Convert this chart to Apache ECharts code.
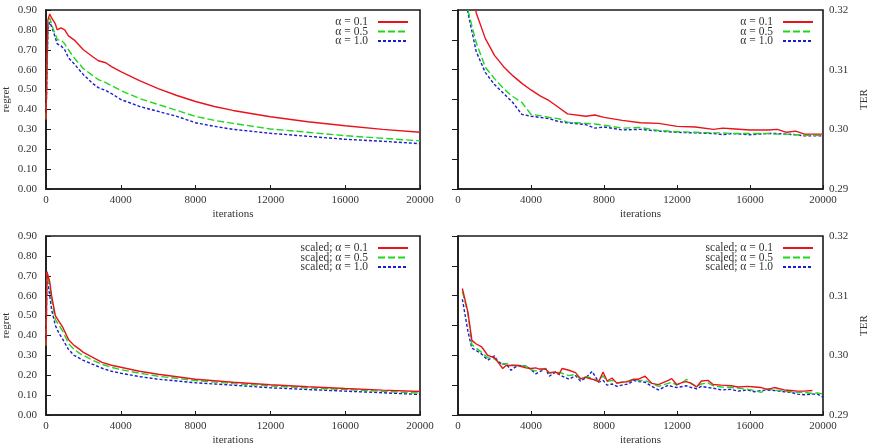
<!DOCTYPE html>
<html><head><meta charset="utf-8">
<script src="https://cdn.jsdelivr.net/npm/echarts@6/dist/echarts.min.js"></script>
<style>html,body{margin:0;padding:0;background:#fff}#c{width:871px;height:448px}</style>
</head><body><div id="c"></div>
<script>
// ---------- data ----------
const xTL = [0,100,200,300,400,500,600,800,1000,1200,1500,2000,2500,2800,3200,3500,4000,5000,6000,7000,8000,9000,10000,12000,14000,16000,18000,20000];
const regretA01 = [0.35,0.85,0.88,0.86,0.85,0.83,0.80,0.81,0.80,0.77,0.75,0.70,0.665,0.645,0.635,0.615,0.59,0.545,0.505,0.47,0.44,0.415,0.395,0.363,0.338,0.318,0.30,0.285];
const regretA05 = [0.35,0.82,0.86,0.83,0.80,0.78,0.75,0.75,0.73,0.70,0.66,0.605,0.57,0.55,0.535,0.52,0.495,0.455,0.425,0.395,0.365,0.345,0.33,0.302,0.285,0.268,0.255,0.242];
const regretA10 = [0.35,0.80,0.84,0.84,0.79,0.76,0.73,0.72,0.70,0.66,0.63,0.575,0.53,0.51,0.495,0.48,0.45,0.415,0.39,0.365,0.333,0.315,0.30,0.28,0.265,0.25,0.24,0.228];

const xTR = [0,500,1000,1500,2000,2500,3000,3500,4000,4500,5000,5500,6000,7000,7500,8000,9000,10000,11000,12000,13000,14000,14500,15000,16000,17000,17500,18000,18500,19000,20000];
const terA01 = [0.34,0.328,0.3195,0.3152,0.3124,0.3105,0.309,0.3077,0.3066,0.3056,0.3048,0.3037,0.3026,0.3022,0.3024,0.3020,0.3015,0.3011,0.3010,0.3005,0.3004,0.3000,0.3002,0.3001,0.2999,0.2999,0.3000,0.2995,0.2997,0.2992,0.2992];
const terA05 = [0.335,0.3205,0.3145,0.3104,0.3085,0.3068,0.3055,0.3045,0.3025,0.3023,0.3020,0.3018,0.3012,0.3010,0.3009,0.3007,0.3002,0.3003,0.2998,0.2996,0.2995,0.2994,0.2994,0.2993,0.2993,0.2993,0.2992,0.2992,0.2991,0.2990,0.2990];
const terA10 = [0.335,0.3202,0.313,0.3095,0.3075,0.306,0.3045,0.3025,0.3022,0.3020,0.3018,0.3013,0.3011,0.3008,0.3002,0.3004,0.2999,0.3000,0.2997,0.2995,0.2994,0.2993,0.2991,0.2993,0.2991,0.2993,0.2993,0.2992,0.2991,0.2989,0.2989];

const xBL = [0,50,200,300,400,500,700,900,1200,1500,1800,2000,2500,3000,3500,4000,5000,6000,8000,10000,12000,14000,16000,18000,20000];
const scRegretA01 = [0.35,0.72,0.67,0.60,0.55,0.50,0.47,0.44,0.38,0.35,0.33,0.315,0.29,0.265,0.25,0.24,0.22,0.205,0.18,0.165,0.152,0.142,0.133,0.125,0.118];
const scRegretA05 = [0.35,0.72,0.65,0.58,0.53,0.48,0.45,0.42,0.36,0.33,0.31,0.30,0.275,0.255,0.24,0.228,0.21,0.195,0.173,0.158,0.146,0.136,0.128,0.119,0.11];
const scRegretA10 = [0.35,0.70,0.60,0.53,0.49,0.45,0.41,0.38,0.33,0.30,0.285,0.275,0.255,0.235,0.22,0.21,0.193,0.18,0.162,0.15,0.137,0.128,0.12,0.112,0.103];

const xBR = [240,545,760,1000,1300,1630,2000,2180,2450,2630,2900,3270,3720,4000,4260,4450,4800,5000,5350,5530,5710,6080,6440,6710,6990,7350,7710,7950,8170,8440,8710,8980,9350,9620,9890,10250,10620,10980,11520,11710,11980,12340,12520,12790,13070,13340,13700,13980,14430,14970,15340,15880,16240,16610,16970,17330,17880,18240,18600,18970,19420,19700,20000];
const scTerA01 = [0.3112,0.3072,0.3025,0.3019,0.3014,0.3000,0.2996,0.2989,0.2978,0.2983,0.2983,0.2983,0.2979,0.2978,0.2979,0.2977,0.2977,0.2971,0.2972,0.2968,0.2978,0.2975,0.2971,0.2961,0.2963,0.2960,0.2956,0.2972,0.2957,0.2962,0.2953,0.2955,0.2956,0.2960,0.2960,0.2965,0.2953,0.2951,0.2958,0.2961,0.2951,0.2955,0.2956,0.2953,0.2947,0.2957,0.2958,0.2951,0.2950,0.2949,0.2947,0.2948,0.2947,0.2946,0.2943,0.2946,0.2942,0.2941,0.2940,0.2940,0.2941,null,null];
const scTerA05 = [0.3107,0.3070,0.3018,0.3012,0.3005,0.2996,0.2994,0.2990,0.2985,0.2986,0.2984,0.2983,0.2982,0.2976,0.2974,0.2975,0.2978,0.2970,0.2972,0.2971,0.2970,0.2966,0.2968,0.2960,0.2964,0.2962,0.2956,0.2966,0.2956,0.2958,0.2954,0.2955,0.2957,0.2960,0.2958,0.2958,0.2953,0.2948,0.2953,0.2955,0.2950,0.2955,0.2960,0.2952,0.2948,0.2952,0.2954,0.2949,0.2947,0.2946,0.2945,0.2943,0.2941,0.2938,0.2944,0.2942,0.2940,0.2939,0.2938,0.2938,0.2936,0.2937,0.2935];
const scTerA10 = [0.3094,0.3040,0.3012,0.3008,0.3002,0.2992,0.2999,0.2990,0.2985,0.2986,0.2975,0.2983,0.2982,0.2976,0.2969,0.2972,0.2978,0.2965,0.2972,0.2968,0.2965,0.2960,0.2966,0.2957,0.2962,0.2973,0.2955,0.2958,0.2950,0.2952,0.2948,0.2950,0.2952,0.2958,0.2956,0.2955,0.2948,0.2942,0.2950,0.2948,0.2946,0.2948,0.2949,0.2946,0.2944,0.2948,0.2946,0.2945,0.2942,0.2943,0.2940,0.2942,0.2939,0.2941,0.2942,0.2941,0.2939,0.2938,0.2935,0.2934,0.2935,0.2935,0.2930];

const namesTop = ['α = 0.1','α = 0.5','α = 1.0'];
const namesBot = ['scaled; α = 0.1','scaled; α = 0.5','scaled; α = 1.0'];

// ---------- chart ----------
const FONT = 'Liberation Serif';
const colors = ['#e8141c','#1ed81e','#1c1cd0'];
const dashes = ['solid',[7,3],[3,2]];
const grids = [
  {left:42, top:10, width:378, height:179},
  {left:458, top:10, width:367, height:179},
  {left:42, top:236, width:378, height:179},
  {left:458, top:236, width:367, height:179}
];
const gridOpts = grids.map(g => Object.assign({show:true, borderColor:'#1a1a1a', borderWidth:1.6, backgroundColor:'#fff'}, g));

const lbl = {fontFamily:FONT, fontSize:11, color:'#333'};
const xAxes = grids.map((g,i) => ({
  type:'value', gridIndex:i, min:0, max:20000, interval:4000,
  name:'iterations', nameLocation:'middle', nameGap:20,
  nameTextStyle:{fontFamily:FONT, fontSize:11, color:'#333'},
  axisLine:{show:true, lineStyle:{color:'#1a1a1a', width:1.6}},
  axisTick:{show:true, inside:true, length:4, lineStyle:{color:'#1a1a1a'}},
  axisLabel:Object.assign({margin:6, formatter:v=>String(Math.round(v))}, lbl),
  splitLine:{show:false}
}));
function regretAxis(i){
  return {type:'value', gridIndex:i, min:0, max:0.9, interval:0.1, position:'left',
    name:'regret', nameLocation:'middle', nameGap:34, nameRotate:90,
    nameTextStyle:{fontFamily:FONT, fontSize:11, color:'#333'},
    axisLine:{show:true, lineStyle:{color:'#1a1a1a', width:1.6}},
    axisTick:{show:true, inside:true, length:5, lineStyle:{color:'#1a1a1a'}},
    axisLabel:Object.assign({margin:9, formatter:v=>v.toFixed(2)}, lbl),
    splitLine:{show:false}};
}
function terAxis(i){
  return {type:'value', gridIndex:i, min:0.29, max:0.32, interval:0.01, position:'right',
    name:'TER', nameLocation:'middle', nameGap:36, nameRotate:90,
    nameTextStyle:{fontFamily:FONT, fontSize:11, color:'#333'},
    axisLine:{show:true, lineStyle:{color:'#1a1a1a', width:1.6}},
    axisTick:{show:true, inside:true, length:6, lineStyle:{color:'#1a1a1a'}},
    minorTick:{show:true, splitNumber:2, length:6, lineStyle:{color:'#1a1a1a'}},
    axisLabel:Object.assign({margin:6, formatter:v=>v.toFixed(2)}, lbl),
    splitLine:{show:false}};
}
const yAxes = [regretAxis(0), terAxis(1), regretAxis(2), terAxis(3)];

function pairs(xs, ys){ return xs.map((x,k)=>[x, ys[k]]); }
const panels = [
  {xs:xTL, ys:[regretA01,regretA05,regretA10], names:namesTop},
  {xs:xTR, ys:[terA01,terA05,terA10], names:namesTop},
  {xs:xBL, ys:[scRegretA01,scRegretA05,scRegretA10], names:namesBot},
  {xs:xBR, ys:[scTerA01,scTerA05,scTerA10], names:namesBot}
];
const series = [];
panels.forEach((p,i) => {
  p.ys.forEach((ys,k) => {
    series.push({type:'line', name:p.names[k], xAxisIndex:i, yAxisIndex:i,
      data:pairs(p.xs, ys), symbol:'none', showSymbol:false, clip:true,
      connectNulls:false, animation:false,
      lineStyle:{color:colors[k], width:1.4, type:dashes[k]},
      itemStyle:{color:colors[k]}, z:3+(2-k)});
  });
});

const legendBase = {orient:'vertical', align:'right', itemWidth:30, itemHeight:8, itemGap:-2.5,
  textStyle:{fontFamily:FONT, fontSize:11.5, color:'#333', padding:[0,5,0,0]},
  padding:0,
  itemStyle:{opacity:0, borderWidth:0},
  selectedMode:false, backgroundColor:'transparent'};
const legends = [
  Object.assign({data:namesTop, right:871-409, top:16}, legendBase),
  Object.assign({data:namesTop, right:871-814, top:16}, legendBase),
  Object.assign({data:namesBot, right:871-409, top:242}, legendBase),
  Object.assign({data:namesBot, right:871-814, top:242}, legendBase)
];

const chart = echarts.init(document.getElementById('c'), null, {renderer:'canvas'});
chart.setOption({
  animation:false,
  backgroundColor:'#fff',
  grid:gridOpts, xAxis:xAxes, yAxis:yAxes, series:series, legend:legends
});
</script></body></html>
